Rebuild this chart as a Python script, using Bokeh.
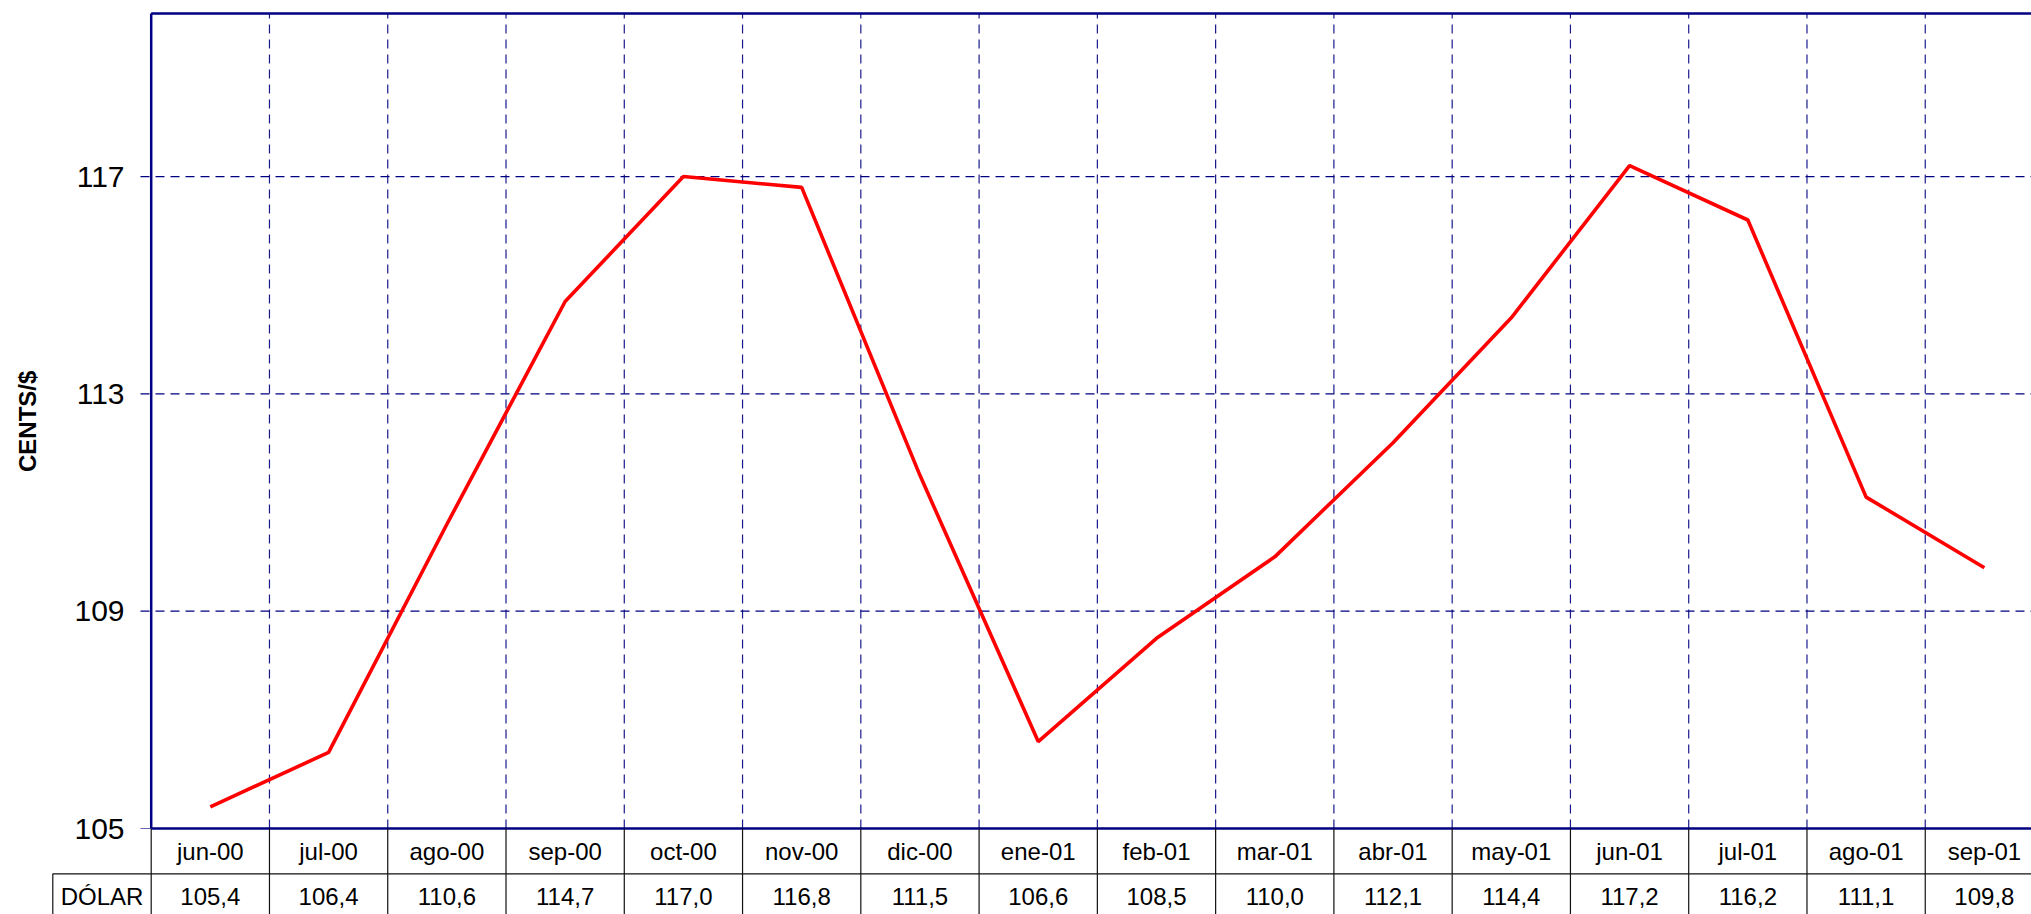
import math
from bokeh.plotting import figure
from bokeh.models import Range1d
from bokeh.core.properties import value
from bokeh.embed import file_html
from bokeh.resources import INLINE

# ---- data ----
months = ["jun-00", "jul-00", "ago-00", "sep-00", "oct-00", "nov-00", "dic-00", "ene-01",
          "feb-01", "mar-01", "abr-01", "may-01", "jun-01", "jul-01", "ago-01", "sep-01"]
dolar = [105.4, 106.4, 110.6, 114.7, 117.0, 116.8, 111.5, 106.6,
         108.5, 110.0, 112.1, 114.4, 117.2, 116.2, 111.1, 109.8]
y_ticks = [105, 109, 113, 117]
y_min, y_max = 105, 120
series_name = "DÓLAR"
y_title = "CENTS/$"

# ---- layout (figure pixels) ----
FIG_W, FIG_H = 2031, 914
CHART_LEFT = 150.7        # px from figure left
CAT_W = 118.27            # px per category
Y_BASE_PX = 828.0         # px from figure top where y_min sits
PX_PER_UNIT = 54.33

def dx(px):
    return (px - CHART_LEFT) / CAT_W

def dy(px):
    return y_min + (Y_BASE_PX - px) / PX_PER_UNIT

x0, x1 = dx(0), dx(FIG_W)
ytop, ybot = dy(0), dy(FIG_H)

p = figure(width=FIG_W, height=FIG_H, output_backend="svg", toolbar_location=None,
           x_range=Range1d(x0, x1), y_range=Range1d(ybot, ytop),
           min_border=0, min_border_left=0, min_border_right=0,
           min_border_top=0, min_border_bottom=0)
p.axis.visible = False
p.grid.visible = False
p.outline_line_color = None
p.background_fill_color = "white"
p.border_fill_color = "white"

NAVY = "#000080"
n = len(months)
FONT = value("Liberation Sans")

# horizontal dashed grid (with tick stub)
tick_x = dx(140.0)
grid_y = [t for t in y_ticks if t != y_min]
p.segment(x0=[tick_x] * len(grid_y), y0=grid_y, x1=[x1] * len(grid_y), y1=grid_y,
          line_color=NAVY, line_width=1.2, line_dash="9 6")
p.segment(x0=[tick_x], y0=[y_min], x1=[0], y1=[y_min], line_color="#6666bb", line_width=1.2)

# vertical dashed grid
vx = list(range(1, n))
p.segment(x0=vx, y0=[y_min] * len(vx), x1=vx, y1=[y_max] * len(vx),
          line_color=NAVY, line_width=1.2, line_dash="9 6", line_alpha=0.9)

# chart borders
p.segment(x0=[0, 0, 0], y0=[y_max, y_min, y_min], x1=[x1, x1, 0], y1=[y_max, y_min, y_max],
          line_color=NAVY, line_width=2.5)

# data line
xs = [i + 0.5 for i in range(n)]
p.line(xs, dolar, line_color="#FF0000", line_width=3.6)

# y tick labels
p.text(x=[dx(124)] * len(y_ticks), y=y_ticks, text=[str(t) for t in y_ticks],
       text_font=FONT, text_font_size="30px", text_align="right",
       text_baseline="middle", text_color="black")

# y title
p.text(x=[dx(27.3)], y=[dy(420.8)], text=[y_title], angle=math.pi / 2,
       text_font=FONT, text_font_size="24px", text_font_style="bold",
       text_align="center", text_baseline="middle", text_color="black")

# data table
y_div = dy(873.3)
x_cell = dx(52.3)
bx = list(range(0, n + 1))
p.segment(x0=bx, y0=[y_min] * len(bx), x1=bx, y1=[ybot] * len(bx),
          line_color="#111111", line_width=1.2)
p.segment(x0=[x_cell, x_cell], y0=[y_div, y_div], x1=[x1, x_cell], y1=[y_div, ybot],
          line_color="#111111", line_width=1.2)

row1_y = dy(850.5)
row2_y = dy(895.5)
p.text(x=xs, y=[row1_y] * n, text=months, text_font=FONT, text_font_size="24px",
       text_align="center", text_baseline="middle", text_color="black")
p.text(x=xs, y=[row2_y] * n, text=[f"{v:.1f}".replace(".", ",") for v in dolar],
       text_font=FONT, text_font_size="24px", text_align="center",
       text_baseline="middle", text_color="black")
p.text(x=[(x_cell + 0) / 2], y=[row2_y], text=[series_name], text_font=FONT,
       text_font_size="24px", text_align="center", text_baseline="middle", text_color="black")

open("out.html", "w").write(file_html(p, INLINE))
